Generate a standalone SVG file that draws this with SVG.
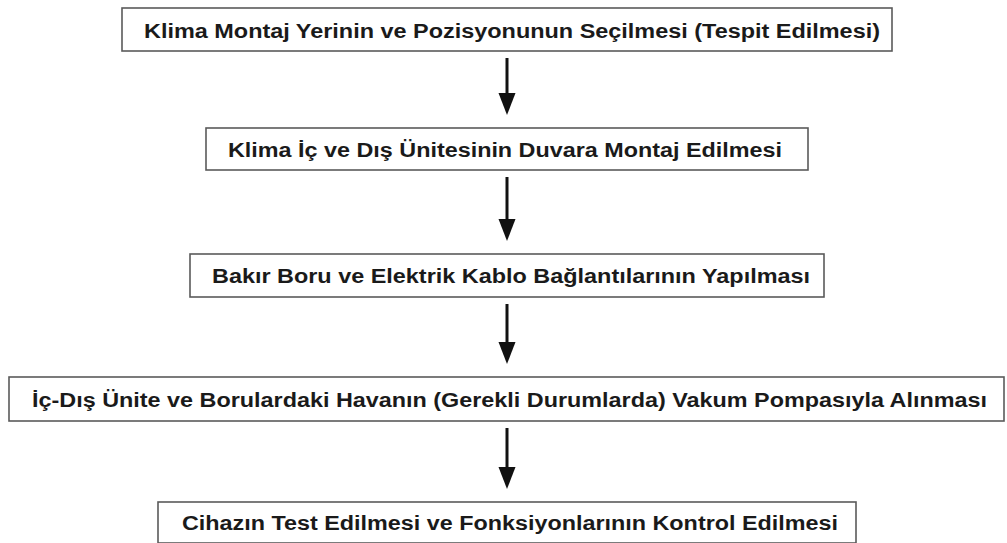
<svg xmlns="http://www.w3.org/2000/svg" width="1007" height="543" viewBox="0 0 1007 543">
<style>
.box{fill:#fff;stroke:#5a5a5a;stroke-width:1.6}
.lbl{font-family:"Liberation Sans",Arial,sans-serif;font-weight:bold;font-size:20px;fill:#1a1a1a}
.conn{stroke:#111;stroke-width:3;fill:none}
.head{fill:#111}
</style>
<rect width="1007" height="543" fill="#fff"/>
<g id="connectors">
<line class="conn" x1="507" y1="58" x2="507" y2="95"/><path class="head" d="M498.5,93 L515.5,93 L507,115 Z"/>
<line class="conn" x1="507" y1="177" x2="507" y2="221"/><path class="head" d="M498.5,219 L515.5,219 L507,241 Z"/>
<line class="conn" x1="507" y1="304" x2="507" y2="344"/><path class="head" d="M498.5,342 L515.5,342 L507,364 Z"/>
<line class="conn" x1="507" y1="428" x2="507" y2="469"/><path class="head" d="M498.5,467 L515.5,467 L507,489 Z"/>
</g>
<g id="n1">
<rect class="box" x="122" y="8" width="770" height="43"/>
<text class="lbl" x="144" y="38" textLength="736" lengthAdjust="spacingAndGlyphs">Klima Montaj Yerinin ve Pozisyonunun Seçilmesi (Tespit Edilmesi)</text>
</g>
<g id="n2">
<rect class="box" x="206" y="128" width="602" height="42"/>
<text class="lbl" x="228" y="157" textLength="554" lengthAdjust="spacingAndGlyphs">Klima İç ve Dış Ünitesinin Duvara Montaj Edilmesi</text>
</g>
<g id="n3">
<rect class="box" x="190" y="254" width="634" height="43"/>
<text class="lbl" x="212" y="283" textLength="598" lengthAdjust="spacingAndGlyphs">Bakır Boru ve Elektrik Kablo Bağlantılarının Yapılması</text>
</g>
<g id="n4">
<rect class="box" x="9" y="377" width="995" height="44"/>
<text class="lbl" x="32" y="407" textLength="955" lengthAdjust="spacingAndGlyphs">İç-Dış Ünite ve Borulardaki Havanın (Gerekli Durumlarda) Vakum Pompasıyla Alınması</text>
</g>
<g id="n5">
<rect class="box" x="158" y="502" width="698" height="41"/>
<text class="lbl" x="182" y="530" textLength="656" lengthAdjust="spacingAndGlyphs">Cihazın Test Edilmesi ve Fonksiyonlarının Kontrol Edilmesi</text>
</g>
</svg>
